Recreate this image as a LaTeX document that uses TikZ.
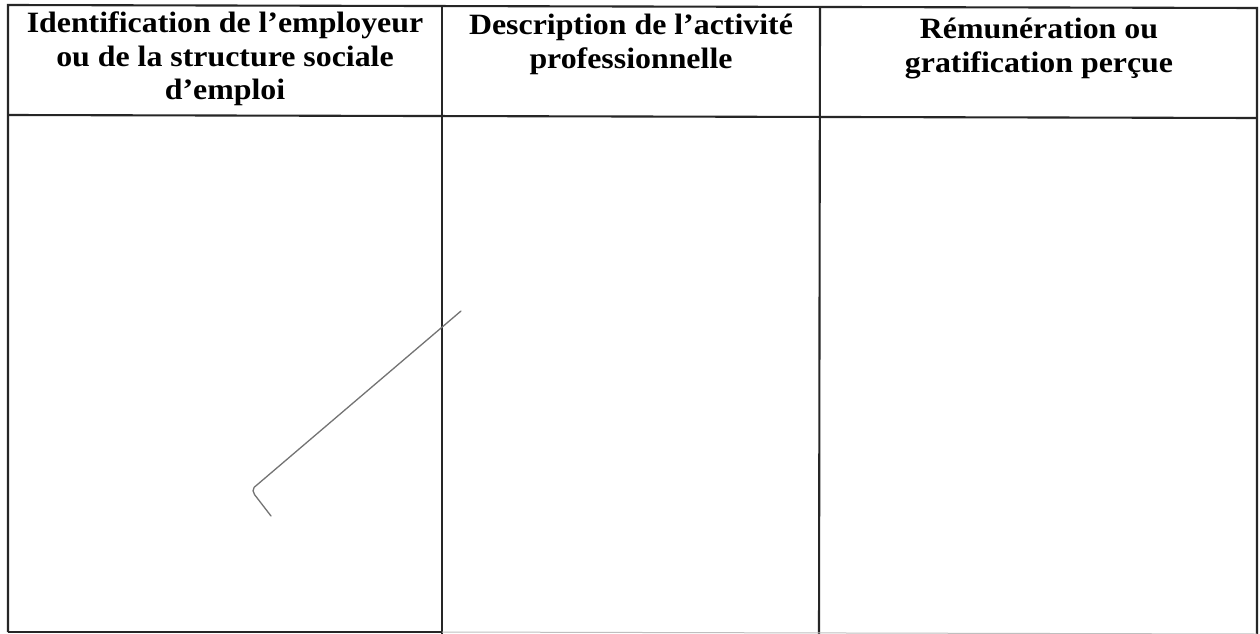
\documentclass[tikz,border=0pt]{standalone}
\usepackage{fontspec}
\setmainfont{Liberation Serif}
\newfontfamily\headfont[FakeStretch=1.08]{Liberation Serif}
\usetikzlibrary{calc}
\begin{document}
\begin{tikzpicture}[x=1pt,y=-1pt,
  rule/.style={line width=2.1pt,draw=black!85},
  head/.style={font=\headfont\bfseries\fontsize{29.5}{33.5}\selectfont,align=center,anchor=north,inner sep=0pt,text=black},
  scribble/.style={line width=1.3pt,draw=black!55,line cap=round,line join=round}]
\useasboundingbox[fill=white] (0,0) rectangle (1260,634);
% table coordinates
\coordinate (tl) at (8,5);
\coordinate (tr) at (1257,8);
\coordinate (c1t) at (442,6);
\coordinate (c2t) at (820,7);
\coordinate (c1b) at (442,634);
\coordinate (c2b) at (819,634);
\coordinate (bl) at (8,632);
\coordinate (br) at (1257,634);
\coordinate (hl) at (8,115);
\coordinate (hr) at (1257,118);
\coordinate (bm) at (442,632);
% outer lines
\draw[rule] (bl) -- (tl) -- (tr) -- (br);
\draw[rule] (c1t) -- (c1b);
\draw[rule] (c2t) -- (c2b);
\draw[rule] (hl) -- (hr);
\draw[rule] (bl) -- (bm);
\draw[line width=1pt,draw=black!25] (bm) -- (br);
% headers
\node[head] (h1) at (225,12) {Identification de l’employeur\\ou de la structure sociale\\d’emploi};
\node[head] (h2) at (631,14) {Description de l’activité\\professionnelle};
\node[head] (h3) at (1039,18) {Rémunération ou\\gratification perçue};
% scribble
\coordinate (s1) at (461,311);
\coordinate (s2) at (251,490);
\coordinate (s3) at (271,516);
\draw[scribble] (s1) -- ($(s1)!0.985!(s2)$) to[out=225,in=120] ($(s2)!0.18!(s3)$) -- (s3);
\end{tikzpicture}
\end{document}
